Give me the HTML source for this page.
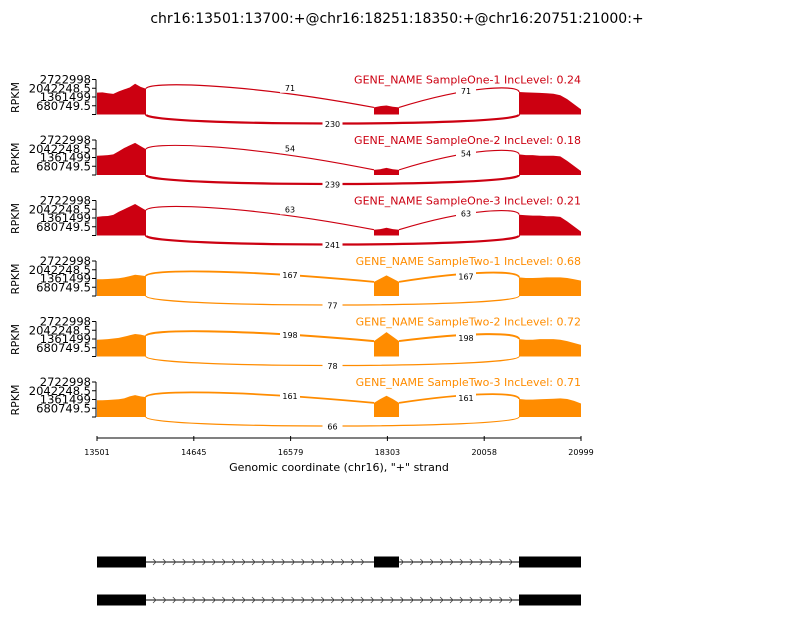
<!DOCTYPE html>
<html><head><meta charset="utf-8"><style>
body{margin:0;background:#fff;}
svg text{font-family:"DejaVu Sans","Liberation Sans",sans-serif;}
</style></head><body>
<svg id="chart" width="793" height="624" viewBox="0 0 793 624" xmlns="http://www.w3.org/2000/svg">
<text x="397" y="23" font-size="14" text-anchor="middle">chr16:13501:13700:+@chr16:18251:18350:+@chr16:20751:21000:+</text>
<g id="panels"></g>
<g id="axis"></g>
<text x="339" y="471" font-size="11" text-anchor="middle">Genomic coordinate (chr16), "+" strand</text>
<g id="genes"></g>
</svg>
<script>
const sampleNames = ["SampleOne-1","SampleOne-2","SampleOne-3","SampleTwo-1","SampleTwo-2","SampleTwo-3"];
const incLevels = ["0.24","0.18","0.21","0.68","0.72","0.71"];
const groupOf = [0,0,0,1,1,1];
const exonStarts = [13501,18251,20751];
const exonEnds = [13700,18350,20999];
const xTickLabels = ["13501","14645","16579","18303","20058","20999"];
const yTickValues = [680749.5,1361499,2042248.5,2722998];
const yTickLabels = ["680749.5","1361499","2042248.5","2722998"];
// coverage in millions RPKM, sampled evenly across each exon
const cov1 = [
 [1.7,1.72,1.65,1.6,1.8,1.95,2.1,2.4,2.15,2.0],
 [1.5,1.52,1.55,1.6,1.85,2.1,2.3,2.5,2.25,2.0],
 [1.45,1.5,1.52,1.6,1.85,2.05,2.25,2.45,2.2,1.95],
 [1.3,1.3,1.32,1.35,1.38,1.45,1.55,1.65,1.6,1.55],
 [1.3,1.32,1.35,1.4,1.45,1.55,1.65,1.75,1.7,1.6],
 [1.3,1.3,1.32,1.35,1.38,1.45,1.6,1.7,1.6,1.55]];
const cov2 = [
 [0.55,0.65,0.7,0.6,0.55],
 [0.4,0.45,0.55,0.45,0.4],
 [0.45,0.5,0.6,0.5,0.45],
 [1.1,1.35,1.6,1.35,1.1],
 [1.2,1.55,1.9,1.55,1.2],
 [1.1,1.4,1.65,1.4,1.1]];
const cov3 = [
 [1.75,1.72,1.7,1.68,1.65,1.62,1.5,1.2,0.8,0.4],
 [1.6,1.55,1.55,1.5,1.5,1.5,1.45,1.1,0.7,0.3],
 [1.62,1.58,1.55,1.55,1.5,1.5,1.45,1.1,0.7,0.3],
 [1.45,1.4,1.4,1.42,1.45,1.45,1.45,1.4,1.3,1.2],
 [1.35,1.3,1.3,1.35,1.35,1.35,1.3,1.2,1.05,0.9],
 [1.4,1.35,1.35,1.38,1.4,1.42,1.45,1.4,1.25,1.05]];
const juncLeft = [71,54,63,167,198,161];
const juncRight = [71,54,63,167,198,161];
const juncSkip = [230,239,241,77,78,66];

const colors = ["#cc0011","#ff8c00"];
const NS = "http://www.w3.org/2000/svg";
function mk(tag, attrs, parent){const e=document.createElementNS(NS,tag);for(const k in attrs)e.setAttribute(k,attrs[k]);parent.appendChild(e);return e;}
// compressed coordinate: exon pixel ranges
const exonPx = [[97,146],[374,399],[519,581]];
const yMax = 2722998, yPx = 35;
const panels = document.getElementById("panels");
function covPts(vals, x0, x1, base){
  const pts=[];
  vals.forEach((v,i)=>{const x=x0+(x1-x0)*i/(vals.length-1);pts.push([x, base - v*1e6/yMax*yPx]);});
  return pts;
}
for(let s=0;s<sampleNames.length;s++){
  const base = 114.5 + s*60.5;
  const col = colors[groupOf[s]];
  const g = mk("g",{},panels);
  
  
  const yl = mk("text",{x:19,y:base-17,"font-size":11,"text-anchor":"middle",transform:`rotate(-90 19 ${base-17})`},g);
  yl.textContent="RPKM";
  
  
  mk("line",{x1:96,y1:base-yPx,x2:96,y2:base,stroke:"#000","stroke-width":1},g);
  yTickValues.forEach((v,i)=>{
    const y = base - v/yMax*yPx;
    mk("line",{x1:92,y1:y,x2:96,y2:y,stroke:"#000","stroke-width":1},g);
    const t = mk("text",{x:91,y:y+4,"font-size":11.5,"text-anchor":"end"},g);
    t.textContent=yTickLabels[i];
    
    
  });
  mk("line",{x1:92,y1:base,x2:96,y2:base,stroke:"#000","stroke-width":1},g);
  const st = mk("text",{x:581,y:base-31,"font-size":11,"text-anchor":"end",fill:col},g);
  st.textContent="GENE_NAME "+sampleNames[s]+" IncLevel: "+incLevels[s];
  
  
  const covs=[cov1[s],cov2[s],cov3[s]];
  const ends=[];
  covs.forEach((c,e)=>{
    const pts=covPts(c,exonPx[e][0],exonPx[e][1],base);
    ends.push(pts);
    let d=`M${exonPx[e][0]},${base} `+pts.map(p=>`L${p[0].toFixed(1)},${p[1].toFixed(1)}`).join(" ")+` L${exonPx[e][1]},${base} Z`;
    const p=mk("path",{d:d,fill:col},g);
    
    
  });
  const maxJ = 250;
  function arc(x1,y1,x2,y2,leftHigh,count,name){
    const yt = Math.min(y1,y2)-7;
    const dx=x2-x1;
    let d, lx, ly;
    if(leftHigh){ d=`M${x1},${y1} C${x1},${yt} ${x2-dx*0.6},${yt} ${x2},${y2}`; lx=x1+dx*0.5; ly=yt+3;}
    else { d=`M${x1},${y1} C${x1+dx*0.6},${yt} ${x2},${yt} ${x2},${y2}`; lx=x1+dx*0.5; ly=yt+3;}
    const p=mk("path",{d:d,fill:"none",stroke:col,"stroke-width":0.8+count/maxJ*1.5},g);
    
    
    return [lx,ly];
  }
  function label(x,y,count){
    mk("rect",{x:x-10,y:y-5,width:20,height:10,fill:"#fff"},g);
    const t=mk("text",{x:x,y:y+3,"font-size":8,"text-anchor":"middle"},g);
    t.textContent=count;
    
    
  }
  const e1=ends[0][ends[0].length-1], e2s=ends[1][0], e2e=ends[1][ends[1].length-1], e3=ends[2][0];
  const l1=arc(146,e1[1],374,e2s[1],true,juncLeft[s],"junction-arc-left");
  const l2=arc(399,e2e[1],519,e3[1],false,juncRight[s],"junction-arc-right");
  label(l1[0]+30,Math.min(e1[1],e2s[1])-1,juncLeft[s]);
  label(l2[0]+7,Math.min(e2e[1],e3[1])-1,juncRight[s]);
  const bp=mk("path",{d:`M146,${base} C146,${base+12} 519,${base+12} 519,${base}`,fill:"none",stroke:col,"stroke-width":0.8+juncSkip[s]/maxJ*1.5},g);
  
  
  label(332.5,base+9.5,juncSkip[s]);
}
// x axis
const ax=document.getElementById("axis");
mk("line",{x1:97,y1:438,x2:581,y2:438,stroke:"#000","stroke-width":1},ax);
xTickLabels.forEach((l,i)=>{
  const x=97+i*(581-97)/(xTickLabels.length-1);
  mk("line",{x1:x,y1:436,x2:x,y2:441,stroke:"#000","stroke-width":1},ax);
  const t=mk("text",{x:x,y:455,"font-size":8,"text-anchor":"middle"},ax);
  t.textContent=l;
  
  
});
// gene tracks
const genes=document.getElementById("genes");
const isoforms=[[0,1,2],[0,2]];
isoforms.forEach((iso,k)=>{
  const y=562+k*38;
  const g=mk("g",{},genes);
  
  
  mk("line",{x1:146,y1:y,x2:519,y2:y,stroke:"#000","stroke-width":1},g);
  for(let x=155;x<517;x+=9.9){
    let inExon=false;
    iso.forEach(e=>{if(x>exonPx[e][0]-3&&x<exonPx[e][1]+3)inExon=true;});
    if(!inExon) mk("path",{d:`M${x-2},${y-3} L${x+1},${y} L${x-2},${y+3}`,fill:"none",stroke:"#444","stroke-width":0.8},g);
  }
  iso.forEach(e=>{
    const r=mk("rect",{x:exonPx[e][0],y:y-5.5,width:exonPx[e][1]-exonPx[e][0],height:11,fill:"#000"},g);
    
    
  });
});
</script>
</body></html>
